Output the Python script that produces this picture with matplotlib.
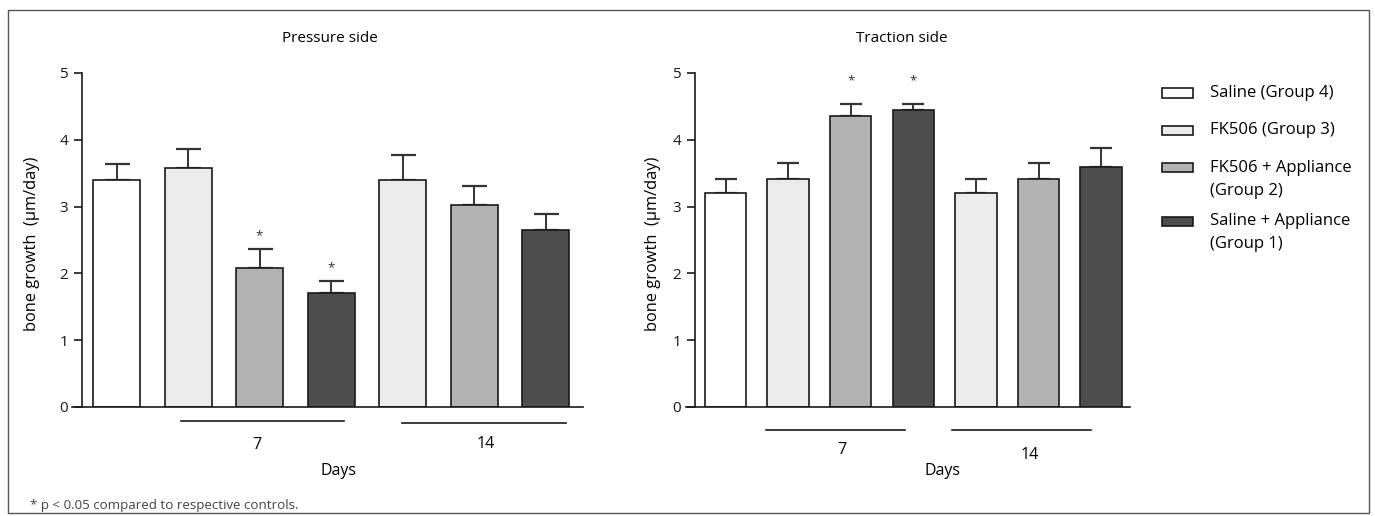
import matplotlib
matplotlib.use("Agg")
from matplotlib import pyplot as plt
from matplotlib.patches import Rectangle
from matplotlib.lines import Line2D

plt.rcParams['font.family'] = ['Open Sans', 'DejaVu Sans']

W, H = 1375, 516

# data
groups = ['Saline (Group 4)', 'FK506 (Group 3)', 'FK506 + Appliance\n(Group 2)',
          'Saline + Appliance\n(Group 1)']
group_colors = ['#ffffff', '#ebebeb', '#b3b3b3', '#4d4d4d']
bar_group = [0, 1, 2, 3, 1, 2, 3]
day_labels = ['7', '14']

pressure_mean = [3.40, 3.58, 2.08, 1.70, 3.40, 3.02, 2.65]
pressure_err = [0.24, 0.28, 0.28, 0.19, 0.37, 0.29, 0.24]
pressure_star = [0, 0, 1, 1, 0, 0, 0]

traction_mean = [3.21, 3.41, 4.35, 4.45, 3.21, 3.41, 3.59]
traction_err = [0.20, 0.25, 0.19, 0.09, 0.20, 0.25, 0.28]
traction_star = [0, 0, 1, 1, 0, 0, 0]


def fx(x):
    return x / W


def fy(y):
    return 1 - y / H


fig = plt.figure(figsize=(W / 100, H / 100), dpi=100)


def panel(x0, x1, spine_x, c0, step, barw, mean, err, star, star_off, capsize,
          title, title_x, lines, day_pos, days_x, ylab_x):
    ax = fig.add_axes([fx(x0), fy(407), fx(x1 - x0), fy(73) - fy(407)])
    pos = list(range(len(mean)))
    cols = [group_colors[g] for g in bar_group]
    ax.bar(pos, mean, width=barw / step, color=cols, edgecolor='#1a1a1a',
           linewidth=1.2, zorder=2)
    ax.errorbar(pos, mean, yerr=[[0] * len(err), err], fmt='none',
                ecolor='#333333', elinewidth=1.4, capsize=capsize,
                capthick=1.6, zorder=1)
    for p, m, e, s in zip(pos, mean, err, star):
        if s:
            ax.text(p, m + e + star_off, '*', ha='center', va='center',
                    fontsize=9.5, color='#333333')
    ax.set_xlim((x0 - c0) / step, (x1 - c0) / step)
    ax.set_ylim(0, 5)
    ax.set_yticks([0, 1, 2, 3, 4, 5])
    ax.set_xticks([])
    for s in ['top', 'right']:
        ax.spines[s].set_visible(False)
    ax.spines['left'].set_position(('axes', (spine_x - x0) / (x1 - x0)))
    ax.spines['left'].set_bounds(0, 5)
    for s in ['left', 'bottom']:
        ax.spines[s].set_linewidth(1.2)
        ax.spines[s].set_color('#1a1a1a')
    ax.tick_params(axis='y', length=6, width=1.2, pad=4, labelsize=11,
                   colors='#1a1a1a')
    fig.text(fx(title_x), fy(38), title, ha='center', va='center', fontsize=11)
    for (a, b, ly), lab, (tx, ty) in zip(lines, day_labels, day_pos):
        fig.add_artist(Line2D([fx(a), fx(b)], [fy(ly), fy(ly)], color='#1a1a1a',
                              lw=1.2))
        fig.text(fx(tx), fy(ty), lab, ha='center', va='center', fontsize=11.5)
    fig.text(fx(days_x), fy(471), 'Days', ha='center', va='center', fontsize=11.5)
    fig.text(fx(ylab_x), fy(244), 'bone growth  (µm/day)', ha='center',
             va='center', rotation=90, fontsize=11.8)
    return ax


panel(72, 583, 82, 116.5, 71.5, 47, pressure_mean, pressure_err, pressure_star,
      0.2, 9, 'Pressure side', 330,
      [(181, 344, 421), (402, 566, 423)], [(257, 445), (486, 444)], 338, 32)

panel(686, 1130, 695, 725.5, 62.6, 41.5, traction_mean, traction_err,
      traction_star, 0.35, 8, 'Traction side', 902,
      [(766, 905, 430), (952, 1091, 430)], [(842, 450), (1030, 455)], 942, 653)

# legend
ly = 93
for lab, col in zip(groups, group_colors):
    fig.add_artist(Rectangle((fx(1162), fy(ly + 4.5)), fx(31), fy(ly - 4.5) - fy(ly + 4.5),
                             facecolor=col, edgecolor='#1a1a1a', lw=1.2))
    fig.text(fx(1210), fy(ly - 8), lab, ha='left', va='top', fontsize=12,
             linespacing=1.6)
    ly += 37.5 if '\n' not in lab else 53

fig.text(fx(30), fy(505), '* p < 0.05 compared to respective controls.',
         ha='left', va='center', fontsize=9.6, color='#444444')

# frame
fig.add_artist(Rectangle((fx(8), fy(513)), fx(1361), fy(10) - fy(513),
                         facecolor='none', edgecolor='#555555', lw=1.0))

fig.savefig('out.png', dpi=100)
